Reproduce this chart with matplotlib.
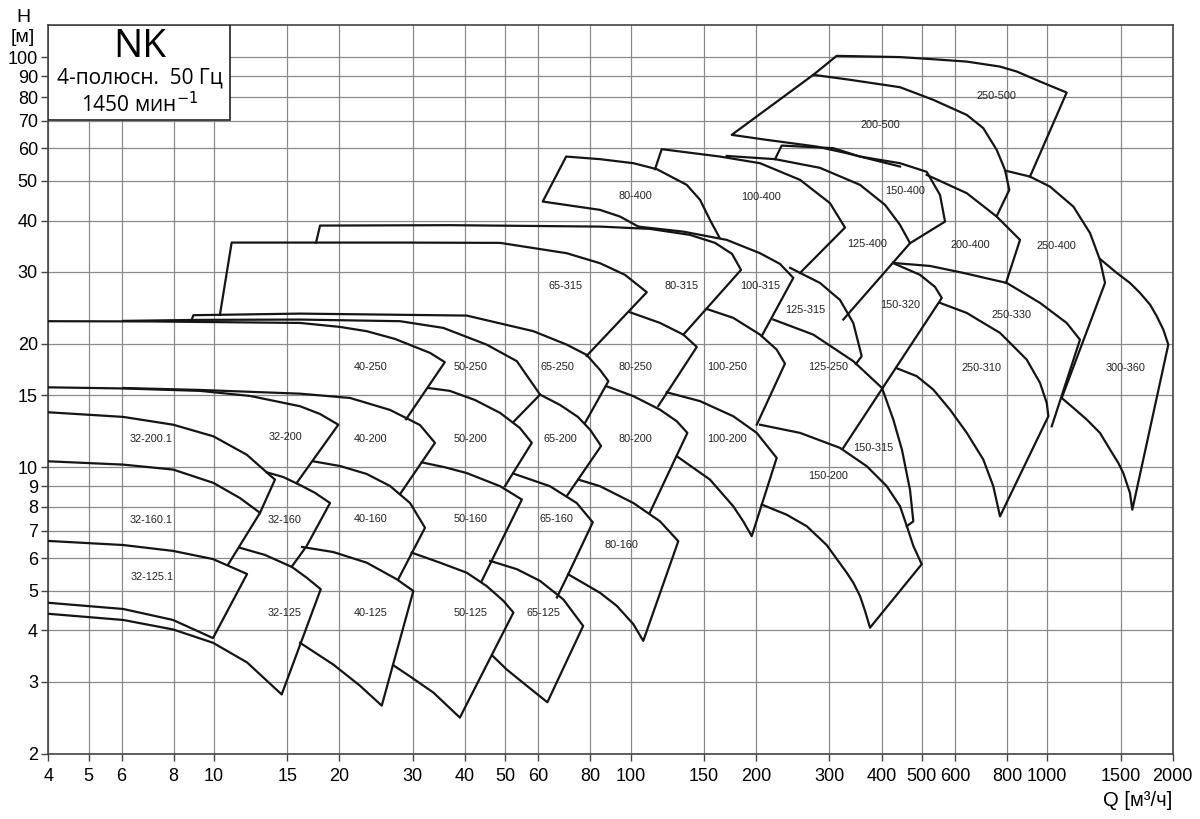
import matplotlib
matplotlib.use("Agg")
import matplotlib.pyplot as plt
from matplotlib.patches import Rectangle

X_TICKS = [4, 5, 6, 8, 10, 15, 20, 30, 40, 50, 60, 80, 100, 150, 200, 300, 400,
           500, 600, 800, 1000, 1500, 2000]
Y_TICKS = [2, 3, 4, 5, 6, 7, 8, 9, 10, 15, 20, 30, 40, 50, 60, 70, 80, 90, 100]

# visible outline of each pump field as (Q m3/h, H m)
SIZE_125 = {
    "32-125.1": [(4, 6.61), (6.05, 6.46), (7.97, 6.25), (9.94, 5.97), (12.0, 5.49),
                 (9.94, 3.83), (7.97, 4.24), (6.05, 4.51), (4, 4.67)],
    "32-125": [(11.54, 6.36), (13.25, 6.11), (15.38, 5.71), (16.71, 5.37), (18.03, 5.04),
               (14.53, 2.79), (12.0, 3.34), (9.94, 3.73), (7.97, 4.02), (6.05, 4.24), (4, 4.39)],
    "40-125": [(16.26, 6.39), (19.33, 6.21), (23.25, 5.85), (27.44, 5.33), (30.08, 4.99),
               (25.26, 2.62), (22.4, 2.93), (19.33, 3.30), (16.08, 3.73)],
    "50-125": [(29.81, 6.19), (34.86, 5.85), (40.4, 5.53), (45.1, 5.13), (49.5, 4.72), (52.3, 4.42),
               (38.9, 2.45), (33.6, 2.82), (29.5, 3.09), (26.9, 3.29)],
    "65-125": [(45.97, 5.91), (53.3, 5.64), (60.6, 5.28), (68.9, 4.76), (76.9, 4.10),
               (63.1, 2.67), (56.3, 2.93), (50.4, 3.21), (46.7, 3.46)],
}

SIZE_160 = {
    "32-160.1": [(4, 10.34), (6.05, 10.15), (7.98, 9.87), (9.96, 9.16), (11.54, 8.41),
                 (12.89, 7.74), (10.82, 5.80)],
    "32-160": [(13.37, 9.72), (14.64, 9.47), (16.08, 9.05), (17.47, 8.66), (18.98, 8.18),
               (16.69, 6.43), (15.36, 5.72)],
    "40-160": [(17.30, 10.34), (20.06, 10.07), (23.25, 9.63), (26.45, 9.00), (29.54, 8.18),
               (32.08, 7.12), (27.68, 5.33)],
    "50-160": [(31.5, 10.28), (35.8, 10.0), (40.4, 9.68), (48.6, 8.99), (54.8, 8.34), (43.9, 5.28)],
    "65-160": [(52.3, 9.65), (64.0, 8.99), (74.2, 8.18), (81.1, 7.34), (70.8, 5.48), (66.5, 4.81)],
    "80-160": [(74.9, 9.33), (84.4, 8.99), (101.5, 8.18), (117.6, 7.38), (130.1, 6.60),
               (107.2, 3.77), (104.3, 3.95), (101.5, 4.14), (92.6, 4.59), (84.4, 4.94), (70.8, 5.48)],
}

SIZE_200 = {
    "32-200.1": [(4, 13.62), (6.05, 13.27), (7.98, 12.70), (9.96, 11.90), (11.98, 10.73),
                 (13.37, 9.72), (14.0, 9.33), (12.89, 7.74)],
    "32-200": [(4, 15.67), (6.05, 15.57), (9.25, 15.36), (12.2, 14.93), (16.08, 14.09),
               (17.96, 13.49), (19.87, 12.70), (15.79, 9.16)],
    "40-200": [(6.05, 15.61), (9.25, 15.44), (16.08, 15.12), (21.2, 14.76), (26.45, 13.80),
               (31.2, 12.68), (33.9, 11.47), (27.95, 8.6)],
    "50-200": [(32.7, 15.61), (36.8, 15.36), (42.3, 14.59), (48.6, 13.57), (54.2, 12.47),
               (57.9, 11.47), (49.9, 8.99)],
    "65-200": [(60.6, 15.04), (67.7, 14.19), (74.7, 13.27), (80, 12.33), (84.9, 11.27), (70.2, 8.50)],
    "80-200": [(87.6, 15.76), (101.5, 14.91), (117.6, 13.82), (129, 12.95), (136.8, 12.13), (111.3, 7.77)],
    "100-200": [(122, 15.24), (146.7, 14.50), (176.3, 13.32), (200.7, 12.13), (224.1, 10.54),
                (195.2, 6.79), (186.3, 7.38), (176.3, 8.03), (155, 9.33), (129, 10.64)],
    "150-200": [(204.4, 12.70), (255, 12.13), (318, 11.15), (368.6, 10.06), (411.8, 8.99),
                (443.1, 8.03), (459.8, 7.2), (476.9, 6.43), (499.5, 5.80), (375.4, 4.06),
                (365.2, 4.46), (355.2, 4.85), (342.2, 5.23), (330, 5.53), (295.4, 6.46),
                (264.6, 7.18), (236.8, 7.66), (206.3, 8.11)],
}

SIZE_250 = {
    "40-250": [(4, 22.72), (7.02, 22.69), (12.2, 22.56), (16.08, 22.50), (20.06, 22.0),
               (23.25, 21.48), (27.2, 20.56), (30.08, 19.74), (33.0, 19.01), (35.8, 18.05),
               (28.9, 13.1)],
    "50-250": [(6.05, 22.76), (9.25, 22.89), (16.08, 22.93), (27.95, 22.72), (35.5, 21.88),
               (45.1, 19.92), (53.3, 18.15), (60.6, 15.04), (52.3, 12.9)],
    "65-250": [(8.84, 22.93), (8.92, 23.5), (16.08, 23.71), (40.4, 23.45), (58.4, 21.48),
               (70.2, 19.92), (78.4, 18.8), (84.4, 17.28), (88.4, 16.22), (77.7, 12.83)],
    "80-250": [(99.6, 23.89), (117.6, 22.50), (133.8, 21.07), (144.1, 19.66), (116.5, 14.11)],
    "100-250": [(152.2, 24.34), (176.3, 23.15), (204.4, 21.07), (224.1, 19.37), (234.6, 17.90),
                (200.7, 12.70)],
    "125-250": [(220, 22.93), (274.4, 21.07), (342.2, 18.15), (401.2, 15.61)],
}

SIZE_315 = {
    "65-315": [(10.33, 23.58), (11.02, 35.34), (16.08, 35.34), (27.95, 35.34), (48.6, 35.28),
               (70.2, 33.29), (84.4, 31.47), (96.9, 29.48), (109.3, 26.74), (78.4, 18.70)],
    "80-315": [(17.57, 35.34), (17.96, 38.88), (36.8, 38.97), (84.4, 38.66), (111.3, 38.16),
               (138.8, 36.9), (159.4, 35.28), (175.1, 33.16), (184.0, 30.31), (133.8, 21.07)],
    "100-315": [(104.3, 38.66), (133.8, 37.58), (170.0, 35.88), (204.4, 33.29), (228.2, 31.35),
                (245.7, 28.98), (206.3, 20.9)],
    "125-315": [(241.3, 30.66), (284.7, 28.17), (318, 25.6), (342.2, 22.50), (358.5, 18.67),
                (347.4, 17.87)],
    "150-315": [(401.2, 15.61), (427, 13.07), (448, 11.02), (468.3, 8.80), (476.9, 7.38),
                (459.8, 7.18)],
    "150-320": [(426.3, 31.5), (494.9, 29.48), (537.6, 27.55), (558.1, 25.89), (323.8, 11.15)],
    "250-310": [(552.7, 25.18), (640.9, 23.8), (702.2, 22.5), (770, 21.28), (844.6, 19.37),
                (892.5, 18.31), (960.7, 16.06), (997, 14.35), (1006, 13.32),
                (770, 7.59), (742, 8.99), (702.2, 10.44), (640.9, 12.13), (584.2, 13.82),
                (532.6, 15.47), (486.1, 16.68), (433.5, 17.47)],
    "250-330": [(426.3, 31.52), (522.9, 30.99), (628.9, 29.8), (799.1, 28.17), (960.7, 25.18),
                (1113, 22.50), (1198, 20.48), (1025, 12.59)],
    "300-360": [(1338, 32.24), (1468, 29.8), (1579, 28.17), (1669, 26.64), (1765, 24.93),
                (1831, 23.37), (1899, 21.67), (1952, 19.92),
                (1600, 7.88), (1579, 8.66), (1522, 9.68), (1481, 10.24), (1415, 11.04),
                (1338, 12.13), (1244, 13.07), (1155, 13.96), (1083, 14.76)],
}

SIZE_400 = {
    "80-400": [(163.2, 36.41), (155, 40.13), (146.7, 44.94), (136.3, 48.88), (115.5, 53.39),
               (101.5, 55.2), (84.4, 56.47), (70.0, 57.30), (61.5, 44.5), (84.4, 42.47),
               (94.3, 40.9), (104.3, 38.66)],
    "100-400": [(114.4, 53.39), (118.7, 59.73), (163.9, 57.30), (204.4, 55.2), (255, 50.27),
                (300.9, 44.1), (326.9, 38.45), (255, 29.8)],
    "125-400": [(170, 57.5), (222.1, 56.47), (284.7, 53.78), (355.2, 48.88), (407.9, 43.68),
                (443.1, 39.03), (468.3, 35.22), (323.8, 22.93)],
    "150-400": [(222.1, 56.47), (230.4, 60.95), (306.4, 60.07), (355.2, 57.30), (443.1, 55.2),
                (513.5, 52.59), (552.7, 46.19), (568.3, 39.76), (468.3, 35.22)],
    "200-400": [(513.5, 51.71), (640.9, 46.64), (756, 40.9), (860.1, 35.88), (796, 28.17)],
    "250-400": [(791.6, 52.97), (908.9, 51.2), (1015, 48.4), (1155, 43.26), (1267, 37.25),
                (1338, 32.06), (1376, 28.17), (1083, 14.76)],
}

SIZE_500 = {
    "200-500": [(443.1, 54.18), (330, 58.4), (279.6, 60.61), (212.1, 62.94), (174.8, 64.73),
                (274.4, 90.7), (336.1, 88.2), (443.1, 84.6), (532.6, 78.8), (640.9, 72.4),
                (702.2, 67.2), (756, 59.5), (791.6, 53.18), (810.6, 47.52), (756, 41.0)],
    "250-500": [(274.4, 90.7), (312.2, 100.9), (443.1, 100.2), (532.6, 99.0), (640.9, 97.7),
                (770, 95.0), (844.6, 92.4), (960.7, 87.35), (1113, 82.1), (908.9, 51.2)],
}

LABEL_AT = {
    "32-125.1": (7.09, 5.41), "32-125": (14.8, 4.42), "40-125": (23.8, 4.40),
    "50-125": (41.2, 4.40), "65-125": (61.7, 4.40),
    "32-160.1": (7.05, 7.45), "32-160": (14.8, 7.45), "40-160": (23.8, 7.47),
    "50-160": (41.2, 7.47), "65-160": (66.5, 7.47), "80-160": (94.8, 6.46),
    "32-200.1": (7.05, 11.74), "32-200": (14.8, 11.86), "40-200": (23.8, 11.74),
    "50-200": (41.2, 11.74), "65-200": (67.7, 11.74), "80-200": (102.4, 11.74),
    "100-200": (170, 11.74), "150-200": (298, 9.54),
    "40-250": (23.8, 17.54), "50-250": (41.2, 17.54), "65-250": (66.8, 17.54),
    "80-250": (102.4, 17.54), "100-250": (170, 17.54), "125-250": (298, 17.54),
    "150-315": (382, 11.15), "150-320": (443, 24.9), "250-310": (696, 17.47),
    "250-330": (821, 23.58), "300-360": (1537, 17.47),
    "65-315": (69.6, 27.75), "80-315": (132.6, 27.75), "100-315": (204.4, 27.75),
    "125-315": (262, 24.25),
    "80-400": (102.4, 45.9), "100-400": (206, 45.75), "125-400": (368.6, 35.08),
    "150-400": (455.6, 47.26), "200-400": (652.6, 34.88), "250-400": (1053, 34.69),
    "200-500": (396.8, 68.5), "250-500": (756, 80.6),
}

plt.rcParams["font.family"] = ["Liberation Sans", "DejaVu Sans"]

fig = plt.figure(figsize=(12, 8.19), dpi=100)
ax = fig.add_axes([0.04025, 0.07973, 0.937, 0.88974])
ax.set_xscale("log")
ax.set_yscale("log")
ax.set_xlim(4, 2000)
ax.set_ylim(2, 120)

ax.set_xticks(X_TICKS)
ax.set_xticklabels([str(v) for v in X_TICKS])
ax.set_yticks(Y_TICKS)
ax.set_yticklabels([str(v) for v in Y_TICKS])
ax.minorticks_off()
ax.tick_params(axis="both", labelsize=13, length=5, width=1, color="#444", pad=2.5)
ax.tick_params(axis="x", pad=5)
ax.grid(True, color="#8a8a8a", lw=0.9)
ax.set_axisbelow(True)
for s in ax.spines.values():
    s.set_color("#444")
    s.set_linewidth(1.2)

for group in (SIZE_125, SIZE_160, SIZE_200, SIZE_250, SIZE_315, SIZE_400, SIZE_500):
    for name, pts in group.items():
        qs = [p[0] for p in pts]
        hs = [p[1] for p in pts]
        ax.plot(qs, hs, color="#151515", lw=1.6, solid_joinstyle="round", zorder=3)

for name, (q, h) in LABEL_AT.items():
    ax.text(q, h, name, fontsize=7.8, ha="center", va="center", color="#222", zorder=4)

# title box
ax.add_patch(Rectangle((0, 0.8696), 0.1616, 0.1304, transform=ax.transAxes,
                       facecolor="white", edgecolor="#222", lw=1.2, zorder=5))
ax.text(0.0816, 0.9698, "NK", transform=ax.transAxes, fontsize=28, ha="center", va="center",
        family=["Open Sans", "DejaVu Sans"], zorder=6)
ax.text(0.0816, 0.9273, "4-полюсн.  50 Гц", transform=ax.transAxes, fontsize=15,
        ha="center", va="center", family=["Open Sans", "DejaVu Sans"], zorder=6)
ax.text(0.0816, 0.8902, "1450 мин$^{-1}$", transform=ax.transAxes, fontsize=15,
        ha="center", va="center", family=["Open Sans", "DejaVu Sans"], zorder=6)

fig.text(23 / 1200, 1 - 17 / 819, "H", fontsize=14, ha="center", va="center")
fig.text(23 / 1200, 1 - 38 / 819, "[м]", fontsize=14, ha="center", va="center")
fig.text(1172 / 1200, 1 - 800 / 819, "Q [м³/ч]", fontsize=14.5, ha="right", va="center")

fig.savefig("out.png", dpi=100)
